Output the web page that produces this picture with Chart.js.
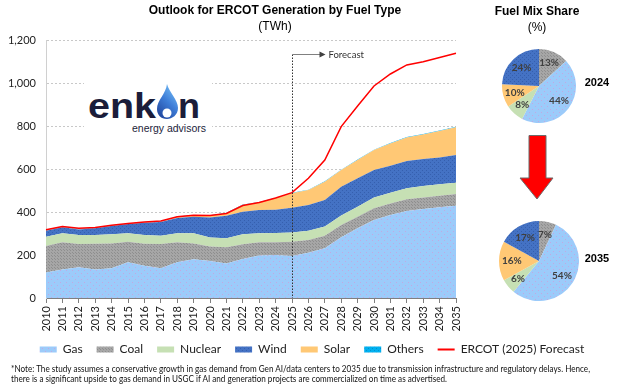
<!DOCTYPE html>
<html><head><meta charset="utf-8">
<script src="https://cdn.jsdelivr.net/npm/chart.js@4.4.1/dist/chart.umd.min.js"></script>
<style>
html,body{margin:0;padding:0;background:#fff;}
body{width:624px;height:385px;position:relative;overflow:hidden;font-family:Lato,sans-serif;}
canvas{position:absolute;}
.abs{position:absolute;white-space:nowrap;}
.ttl{font-family:"Liberation Sans",Arial,sans-serif;font-size:12px;color:#000;text-align:center;line-height:14px;}
.b{font-weight:bold;}
</style></head><body>
<canvas id="main" width="624" height="385" style="left:0;top:0"></canvas>

<div class="abs ttl b" style="left:75px;width:400px;top:3px;">Outlook for ERCOT Generation by Fuel Type</div>
<div class="abs ttl" style="left:75px;width:400px;top:19px;">(TWh)</div>
<div class="abs ttl b" style="left:477px;width:120px;top:4px;">Fuel Mix Share</div>
<div class="abs ttl" style="left:477px;width:120px;top:20px;">(%)</div>
<div class="abs ttl b" style="left:577px;width:40px;top:75px;font-size:11px;">2024</div>
<div class="abs ttl b" style="left:577px;width:40px;top:251px;font-size:11px;">2035</div>

<svg class="abs" style="left:84px;top:76px" width="128" height="64">
  <defs>
    <linearGradient id="fl" x1="0" y1="1" x2="0.6" y2="0">
      <stop offset="0" stop-color="#1C3C93"/>
      <stop offset="0.6" stop-color="#3E7ED8"/>
      <stop offset="1" stop-color="#6FB6F2"/>
    </linearGradient>
  </defs>
  <rect x="0" y="0" width="128" height="64" fill="#fff"/>
  <text x="4" y="42" font-family="Liberation Sans, Arial, sans-serif" font-weight="bold" font-size="35" fill="#1B1D3A" textLength="68" lengthAdjust="spacingAndGlyphs">enk</text>
  <path d="M83,8 C85,16 94,24 94,32 C94,39 88,43 83,43 C77,43 73,39 73,33 C73,24 82,18 83,8 Z" fill="url(#fl)"/>
  <circle cx="83" cy="37" r="4.5" fill="#fff"/>
  <text x="94" y="42" font-family="Liberation Sans, Arial, sans-serif" font-weight="bold" font-size="35" fill="#1B1D3A" textLength="22" lengthAdjust="spacingAndGlyphs">n</text>
  <text x="48" y="56" font-family="Liberation Sans, Arial, sans-serif" font-size="10.5" fill="#1B1D3A" textLength="74" lengthAdjust="spacingAndGlyphs">energy advisors</text>
</svg>

<svg class="abs" style="left:514px;top:130px" width="46" height="76">
  <polygon points="15,5.5 32,5.5 32,48 39,48 23,69 6,48 15,48" fill="#FF0000" stroke="#6B6B6B" stroke-width="1"/>
</svg>

<canvas id="pie24" width="74" height="74" style="left:502px;top:49px"></canvas>
<canvas id="pie35" width="80" height="80" style="left:499px;top:221px"></canvas>

<svg class="abs" style="left:0;top:355px" width="624" height="30">
  <text x="11" y="17" font-family="Lato, sans-serif" font-size="9" fill="#111" textLength="579" lengthAdjust="spacingAndGlyphs">*Note: The study assumes a conservative growth in gas demand from Gen AI/data centers to 2035 due to transmission infrastructure and regulatory delays. Hence,</text>
  <text x="11" y="27" font-family="Lato, sans-serif" font-size="9" fill="#111" textLength="436" lengthAdjust="spacingAndGlyphs">there is a significant upside to gas demand in USGC if AI and generation projects are commercialized on time as advertised.</text>
</svg>

<script>
// ---------------- DATA ----------------
const years = ['2010','2011','2012','2013','2014','2015','2016','2017','2018','2019','2020','2021','2022','2023','2024','2025','2026','2027','2028','2029','2030','2031','2032','2033','2034','2035'];
const gas     = [119,133,143,133,138,166,150,138,166,180,172,161,181,198,200,195,211,231,282,324,363,386,405,414,422,429];
const coal    = [123,126,108,119,116, 96,102,113, 93, 74, 68, 75, 69, 61, 59, 67, 59, 59, 58, 54, 54, 54, 54, 54, 54, 55];
const nuclear = [ 43, 42, 42, 41, 43, 39, 41, 39, 42, 47, 41, 42, 46, 42, 43, 43, 43, 42, 44, 47, 50, 50, 51, 53, 53, 52];
const wind    = [ 28, 28, 26, 31, 38, 43, 57, 63, 71, 77, 93,105,105,108,108,115,120,124,134,132,128,125,127,126,125,129];
const solar   = [  1,  1,  1,  1,  1,  1,  2,  2,  5,  6,  9, 11, 32, 36, 54, 67, 69, 85, 77, 85, 93,104,110,114,123,129];
const others  = [  2,  2,  2,  2,  2,  2,  2,  2,  2,  2,  2,  2,  2,  2,  2,  2,  2,  2,  2,  2,  2,  2,  2,  2,  2,  2];
const ercot   = [317,333,325,328,338,347,354,358,378,385,384,393,430,444,465,490,557,642,797,893,986,1042,1084,1099,1119,1138];
const yTicks  = [0,200,400,600,800,1000,1200];
const forecastStart = '2025';
const forecastArrowLevel = 1135;

const pieLabels = ['Coal','Gas','Nuclear','Solar','Wind'];
const share2024 = [13,44,8,10,24];
const share2035 = [7,54,6,16,17];

// ---------------- STYLE ----------------
Chart.defaults.font.family = 'Lato, sans-serif';
function pat(bg, dot, step){
  const c=document.createElement('canvas'); c.width=step; c.height=step;
  const x=c.getContext('2d'); x.fillStyle=bg; x.fillRect(0,0,step,step);
  x.fillStyle=dot; x.fillRect(0,0,1,1); x.fillRect(Math.floor(step/2),Math.floor(step/2),1,1);
  return x.createPattern(c,'repeat');
}
const C = {
  gas: pat('#9CCBFA','#C2A8E2',6),
  coal: pat('#A6A6A6','#8E8E8E',3),
  nuclear: '#C6E0B4',
  wind: pat('#4472C4','#355FAE',4),
  solar: '#FFC875',
  others: pat('#00B0F0','#0092CC',4),
  ercot: '#FF0000'
};

function area(label, data, color, fill){
  return {label, data, backgroundColor: color, borderWidth:0, pointRadius:0, fill, stack:'gen', tension:0, order:1};
}

const forecastPlugin = {
  id:'forecast',
  afterDatasetsDraw(chart){
    const {ctx, chartArea, scales:{x, y}} = chart;
    const px = Math.round(x.getPixelForValue(years.indexOf(forecastStart))) + 0.5;
    const top = Math.round(y.getPixelForValue(forecastArrowLevel)) + 0.5;
    ctx.save();
    ctx.lineWidth = 1;
    ctx.strokeStyle = '#333';
    ctx.setLineDash([1.5,1.5]);
    ctx.beginPath(); ctx.moveTo(px, top); ctx.lineTo(px, chartArea.bottom); ctx.stroke();
    ctx.strokeStyle = '#808080';
    ctx.setLineDash([]);
    ctx.beginPath(); ctx.moveTo(px, top); ctx.lineTo(px+28, top); ctx.stroke();
    ctx.fillStyle = '#404040';
    ctx.beginPath(); ctx.moveTo(px+33, top); ctx.lineTo(px+27, top-3); ctx.lineTo(px+27, top+3); ctx.closePath(); ctx.fill();
    ctx.font = '9.5px Lato, sans-serif';
    ctx.fillStyle = '#333';
    ctx.textBaseline = 'middle';
    ctx.fillText('Forecast', px+36, top);
    ctx.restore();
  }
};

const AREA_BOTTOM = 298;
const X_AXIS_H = 40;
const LEG_PAD = 14;
const LEG_FONT = 12;
const LEG_CENTER = 349.5;
const LEG_H = LEG_FONT + LEG_PAD + 10;
const PAD_BOTTOM = 385 - AREA_BOTTOM - X_AXIS_H - LEG_H;

// keep the legend row centred where the reference has it (inside the label band)
const legendPlace = {
  id:'legendPlace',
  afterLayout(chart){
    const lg = chart.legend; if(!lg) return;
    const h = lg.bottom - lg.top;
    lg.top = LEG_CENTER - LEG_PAD - LEG_FONT/2;
    lg.bottom = lg.top + h;
  }
};

new Chart(document.getElementById('main'), {
  type:'line',
  data:{
    labels: years,
    datasets:[
      area('Gas', gas, C.gas, 'origin'),
      area('Coal', coal, C.coal, '-1'),
      area('Nuclear', nuclear, C.nuclear, '-1'),
      area('Wind', wind, C.wind, '-1'),
      area('Solar', solar, C.solar, '-1'),
      area('Others', others, C.others, '-1'),
      {label:'ERCOT (2025) Forecast', data: ercot, borderColor: C.ercot, backgroundColor: C.ercot, borderWidth:1.5, pointRadius:0, fill:false, stack:'ercot', tension:0, order:-1}
    ]
  },
  options:{
    responsive:false, animation:false,
    layout:{padding:{left:0, right:0, top:40, bottom:PAD_BOTTOM}},
    plugins:{
      title:{display:false}, tooltip:{enabled:false},
      legend:{
        position:'bottom',
        labels:{
          usePointStyle:true, pointStyleWidth:17, boxHeight:6, padding:LEG_PAD,
          color:'#222', font:{family:'Lato, sans-serif', size:LEG_FONT},
          generateLabels(chart){
            return chart.data.datasets.map((d,i)=>({
              text:d.label, fillStyle: d.backgroundColor,
              strokeStyle: d.label.startsWith('ERCOT') ? C.ercot : 'rgba(0,0,0,0)',
              lineWidth: d.label.startsWith('ERCOT') ? 2 : 0,
              pointStyle: d.label.startsWith('ERCOT') ? 'line' : 'rect',
              hidden:false, datasetIndex:i, fontColor:'#222'
            }));
          }
        }
      }
    },
    scales:{
      x:{
        grid:{drawOnChartArea:false, drawTicks:true, tickLength:5, color:'#7F7F7F'},
        border:{display:true, color:'#7F7F7F'},
        ticks:{minRotation:90, maxRotation:90, autoSkip:false, padding:3, color:'#222', font:{size:11}},
        afterFit(s){ s.height = X_AXIS_H; }
      },
      y:{
        stacked:true, min:0, max:1200,
        afterBuildTicks(s){ s.ticks = yTicks.map(v=>({value:v})); },
        grid:{color:'#C8C8C8', drawTicks:false},
        border:{display:true, color:'#D0D0D0', dash:[2,2]},
        ticks:{padding:10, color:'#222', font:{size:11}, callback:v=>v.toLocaleString('en-US')},
        afterFit(s){ s.width = 46; }
      },
      yR:{
        position:'right', display:true,
        grid:{display:false}, border:{display:false}, ticks:{display:false},
        afterFit(s){ s.width = 168; }
      }
    }
  },
  plugins:[forecastPlugin, legendPlace]
});

const pieLabelPlugin = {
  id:'pieLabels',
  afterDatasetsDraw(chart){
    const {ctx} = chart;
    const meta = chart.getDatasetMeta(0);
    const data = chart.data.datasets[0].data;
    ctx.save();
    ctx.font = 'bold 10px Lato, sans-serif';
    ctx.fillStyle = '#3F3F3F';
    ctx.textAlign = 'center'; ctx.textBaseline = 'middle';
    meta.data.forEach((arc,i)=>{
      const p = arc.getProps(['x','y','startAngle','endAngle','outerRadius'], true);
      const a = (p.startAngle + p.endAngle)/2;
      const r = p.outerRadius * 0.68;
      ctx.fillText(data[i] + '%', p.x + Math.cos(a)*r, p.y + Math.sin(a)*r);
    });
    ctx.restore();
  }
};

function pie(id, vals){
  new Chart(document.getElementById(id), {
    type:'pie',
    data:{labels:pieLabels, datasets:[{data:vals, backgroundColor:[C.coal, C.gas, C.nuclear, C.solar, C.wind], borderWidth:0}]},
    options:{responsive:false, animation:false, layout:{padding:0},
      plugins:{legend:{display:false}, tooltip:{enabled:false}}},
    plugins:[pieLabelPlugin]
  });
}
pie('pie24', share2024);
pie('pie35', share2035);
</script>
</body></html>
